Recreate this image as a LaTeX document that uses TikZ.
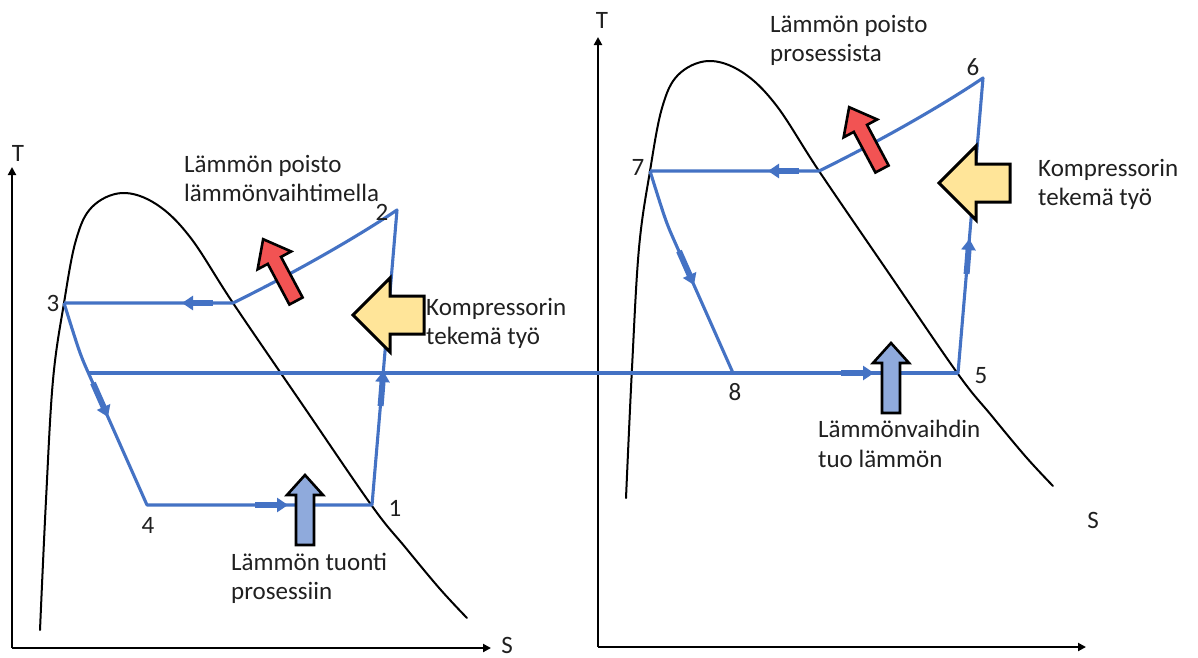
\documentclass[tikz,border=0pt]{standalone}
\usepackage{fontspec}
\setmainfont{Carlito}
\usetikzlibrary{arrows.meta}
\definecolor{cycblue}{HTML}{4472C4}
\definecolor{hotred}{HTML}{F25353}
\definecolor{workyel}{HTML}{FFE599}
\definecolor{heatblue}{HTML}{8FAADC}
\definecolor{txtcol}{HTML}{202020}
\tikzset{
  lbl/.style={font=\fontsize{25}{29.5}\selectfont, text=txtcol, inner sep=0pt},
  txt/.style={lbl, align=left, anchor=north west},
  axisline/.style={line width=2.4pt, -{Triangle[length=8pt,width=8pt]}},
  domeline/.style={line width=2pt, black, line cap=round},
  loopline/.style={line width=3.1pt, cycblue, line join=round},
  flowmark/.style={line width=6pt, cycblue, -{Triangle[length=11pt,width=14pt]}},
  bigarrow/.style={draw=black, line width=2.6pt, line join=miter},
  satdome/.pic={
    \draw[domeline] plot[smooth, tension=0.6] coordinates {(40,630) (46,500) (53,380) (64,303) (76,240) (92,207) (122,193) (156,204) (190,237) (233,303) (302,404) (372,506) (405,547) (440,589) (467,618)};
  },
  hploop/.pic={
    \coordinate (-a) at (64,303);
    \coordinate (-k) at (233,303);
    \coordinate (-b) at (397,210);
    \coordinate (-c) at (372,505);
    \coordinate (-d) at (147,505);
    \coordinate (-m) at (88.4,373);
    \draw[loopline] (-a) -- (-k) .. controls (300,270) and (360,235) .. (-b) -- (-c) -- (-d) -- (-m) .. controls (80,354) .. (-a);
    \draw[flowmark] (213,303) -- (182,303);
    \draw[flowmark] (93,383) -- (108,417);
    \draw[flowmark] (255,505) -- (288,505);
    \draw[flowmark] (380.6,406) -- (383.4,371);
  },
  hparrows/.pic={
    \draw[bigarrow, fill=hotred, shift={(296,301)}, rotate=118] (0,-7.5) -- (46,-7.5) -- (46,-19) -- (70,0) -- (46,19) -- (46,7.5) -- (0,7.5) -- cycle;
    \draw[bigarrow, fill=workyel, line width=3pt] (424,296) -- (390,296) -- (390,278) -- (353,315) -- (390,352) -- (390,334) -- (424,334) -- cycle;
    \draw[bigarrow, fill=heatblue] (296,545) -- (296,495) -- (287,495) -- (305,475) -- (323,495) -- (314,495) -- (314,545) -- cycle;
  }
}
\begin{document}
\begin{tikzpicture}[x=1pt,y=-1pt]
\useasboundingbox (0,0) rectangle (1198,657);
\fill[white] (0,0) rectangle (1198,657);
% axes
\coordinate (LO) at (12,648);
\coordinate (LT) at (12,167);
\coordinate (LS) at (491,648);
\coordinate (RO) at (598,647);
\coordinate (RT) at (598,37);
\coordinate (RS) at (1086,647);
\draw[axisline] (LO) -- (LT);
\draw[axisline] (LO) -- (LS);
\draw[axisline] (RO) -- (RT);
\draw[axisline] (RO) -- (RS);
% saturation domes
\pic at (0,0) {satdome};
\pic at (586,-132) {satdome};
% cycles
\pic (L) at (0,0) {hploop};
\pic (R) at (586,-132) {hploop};
\draw[loopline] (L-m) -- (R-c);
% heat / work arrows
\pic at (0,0) {hparrows};
\pic at (586,-132) {hparrows};
% point labels
\node[lbl] (n1) at (395,508) {1};
\node[lbl] (n2) at (382,212) {2};
\node[lbl] (n3) at (53,303) {3};
\node[lbl] (n4) at (148,525) {4};
\node[lbl] (n5) at (981,376) {5};
\node[lbl] (n6) at (973,67) {6};
\node[lbl] (n7) at (638,167) {7};
\node[lbl] (n8) at (735,392) {8};
\node[lbl] (tl) at (18,153) {T};
\node[lbl] (sl) at (507,645) {S};
\node[lbl] (tr) at (602,20) {T};
\node[lbl] (sr) at (1093,520) {S};
% texts
\node[txt] (q1) at (184,155) {Lämmön poisto\\lämmönvaihtimella};
\node[txt] (w1) at (426,298) {Kompressorin\\tekemä työ};
\node[txt] (h1) at (231,553) {Lämmön tuonti\\prosessiin};
\node[txt] (q2) at (770,15) {Lämmön poisto\\prosessista};
\node[txt] (w2) at (1038,159) {Kompressorin\\tekemä työ};
\node[txt] (h2) at (818,420) {Lämmönvaihdin\\tuo lämmön};
\end{tikzpicture}
\end{document}
